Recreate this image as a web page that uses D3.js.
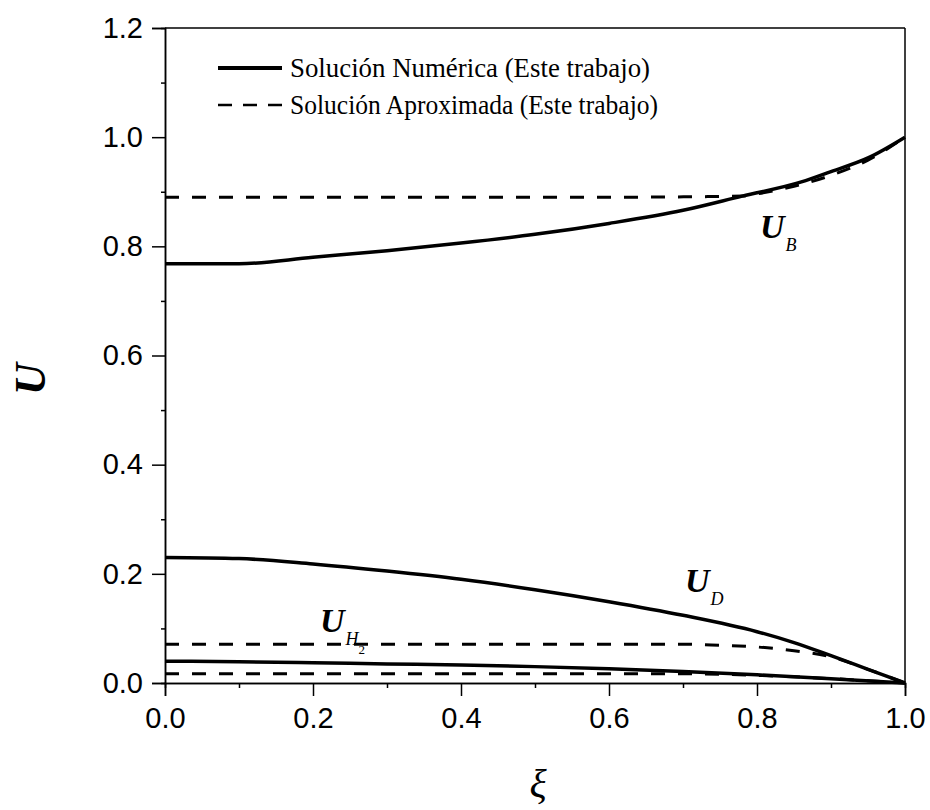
<!DOCTYPE html>
<html>
<head>
<meta charset="utf-8">
<script src="https://cdn.jsdelivr.net/npm/d3@7"></script>
<style>
  body { margin: 0; background: #fff; }
  svg { display: block; }
</style>
</head>
<body>
<div class="chart"></div>
<script>
// values (xi, U)
const xiB = [0, 0.1, 0.2, 0.3, 0.4, 0.5, 0.6, 0.7, 0.78, 0.86, 0.9, 0.95, 1.0];
const numB = [0.768, 0.768, 0.78, 0.792, 0.806, 0.822, 0.842, 0.866, 0.892, 0.918, 0.937, 0.962, 1.0];
const xiBa = [0, 0.2, 0.4, 0.6, 0.78, 0.8, 0.85, 0.9, 0.95, 1.0];
const aprB = [0.89, 0.89, 0.89, 0.89, 0.892, 0.896, 0.91, 0.93, 0.958, 1.0];

const xiD = [0, 0.1, 0.2, 0.3, 0.4, 0.5, 0.6, 0.7, 0.8, 0.85, 0.9, 0.95, 1.0];
const numD = [0.23, 0.228, 0.218, 0.205, 0.19, 0.171, 0.149, 0.124, 0.094, 0.074, 0.05, 0.025, 0];
const xiDa = [0, 0.2, 0.4, 0.6, 0.7, 0.75, 0.8, 0.85, 0.9, 0.95, 1.0];
const aprD = [0.071, 0.071, 0.071, 0.071, 0.071, 0.069, 0.066, 0.059, 0.048, 0.025, 0];

const xiH = [0, 0.1, 0.2, 0.3, 0.4, 0.5, 0.6, 0.7, 0.8, 0.9, 1.0];
const numH = [0.04, 0.039, 0.037, 0.035, 0.033, 0.03, 0.026, 0.021, 0.015, 0.008, 0];
const xiHa = [0, 0.2, 0.4, 0.6, 0.7, 0.8, 0.9, 1.0];
const aprH = [0.017, 0.017, 0.017, 0.017, 0.017, 0.014, 0.008, 0];

const xTicks = [0, 0.2, 0.4, 0.6, 0.8, 1.0];
const xMinor = [0.1, 0.3, 0.5, 0.7, 0.9];
const yTicks = [0, 0.2, 0.4, 0.6, 0.8, 1.0, 1.2];
const yMinor = [0.1, 0.3, 0.5, 0.7, 0.9, 1.1];

const legendLabels = ["Solución Numérica (Este trabajo)", "Solución Aproximada (Este trabajo)"];

const width = 930, height = 810;
const margin = { top: 28, right: 25, bottom: 127, left: 165 };

const svg = d3.select(".chart").append("svg")
  .attr("width", width)
  .attr("height", height);

const x = d3.scaleLinear().domain([0, 1]).range([margin.left, width - margin.right]);
const y = d3.scaleLinear().domain([0, 1.2]).range([height - margin.bottom, margin.top]);

const tickFont = "'Liberation Sans', Arial, sans-serif";
const serif = "'Liberation Serif', 'Times New Roman', serif";

function styleAxis(g) {
  g.select(".domain").attr("stroke", "#000").attr("stroke-width", 1.5);
  g.selectAll(".tick line").attr("stroke", "#000").attr("stroke-width", 1.5);
  g.selectAll(".tick text").attr("font-family", tickFont).attr("font-size", 29).attr("fill", "#000");
}

// x axis
svg.append("g")
  .attr("transform", "translate(0," + y(0) + ")")
  .call(d3.axisBottom(x).tickValues(xTicks).tickSize(13).tickPadding(11).tickFormat(d3.format(".1f")))
  .call(styleAxis);
svg.append("g")
  .attr("transform", "translate(0," + y(0) + ")")
  .call(d3.axisBottom(x).tickValues(xMinor).tickSize(5).tickFormat(""))
  .call(styleAxis);

// y axis
svg.append("g")
  .attr("transform", "translate(" + x(0) + ",0)")
  .call(d3.axisLeft(y).tickValues(yTicks).tickSize(13).tickPadding(9).tickFormat(d3.format(".1f")))
  .call(styleAxis);
svg.append("g")
  .attr("transform", "translate(" + x(0) + ",0)")
  .call(d3.axisLeft(y).tickValues(yMinor).tickSize(4).tickFormat(""))
  .call(styleAxis);

// top and right frame
svg.append("line").attr("x1", x(0)).attr("x2", x(1)).attr("y1", y(1.2)).attr("y2", y(1.2))
  .attr("stroke", "#000").attr("stroke-width", 1.5);
svg.append("line").attr("x1", x(1)).attr("x2", x(1)).attr("y1", y(1.2)).attr("y2", y(0))
  .attr("stroke", "#000").attr("stroke-width", 1.5);

const line = d3.line()
  .x(d => x(d[0]))
  .y(d => y(d[1]))
  .curve(d3.curveMonotoneX);

function drawSeries(xs, ys, dashed) {
  svg.append("path")
    .datum(d3.zip(xs, ys))
    .attr("fill", "none")
    .attr("stroke", "#000")
    .attr("stroke-width", dashed ? 3 : 3.5)
    .attr("stroke-dasharray", dashed ? "14,13" : null)
    .attr("d", line);
}

drawSeries(xiBa, aprB, true);
drawSeries(xiDa, aprD, true);
drawSeries(xiHa, aprH, true);
drawSeries(xiB, numB, false);
drawSeries(xiD, numD, false);
drawSeries(xiH, numH, false);

// legend
const legend = svg.append("g");
legendLabels.forEach((label, i) => {
  const ly = 68 + i * 37;
  legend.append("line")
    .attr("x1", 218).attr("x2", 282).attr("y1", ly).attr("y2", ly)
    .attr("stroke", "#000")
    .attr("stroke-width", i === 0 ? 4 : 2.5)
    .attr("stroke-dasharray", i === 0 ? null : "14,11");
  legend.append("text")
    .attr("x", 290).attr("y", ly + 9)
    .attr("font-family", serif).attr("font-size", 27)
    .attr("textLength", i === 0 ? 360 : 368)
    .attr("lengthAdjust", "spacingAndGlyphs")
    .text(label);
});

// curve labels
function curveLabel(ux, uy, sub, sub2) {
  const t = svg.append("text").attr("font-family", serif).attr("fill", "#000");
  t.append("tspan").attr("x", ux).attr("y", uy)
    .attr("font-size", 34).attr("font-weight", "bold").attr("font-style", "italic").text("U");
  t.append("tspan").attr("dx", 1).attr("dy", 13)
    .attr("font-size", 18).attr("font-style", "italic").text(sub);
  if (sub2) {
    t.append("tspan").attr("dy", 9)
      .attr("font-size", 13).text(sub2);
  }
}
curveLabel(760, 238, "B");
curveLabel(685, 592, "D");
curveLabel(320, 632, "H", "2");

// axis titles
svg.append("text")
  .attr("transform", "translate(45,379) rotate(-90)")
  .attr("text-anchor", "middle")
  .attr("font-family", serif).attr("font-size", 44)
  .attr("font-weight", "bold").attr("font-style", "italic")
  .text("U");

svg.append("text")
  .attr("x", 538).attr("y", 797)
  .attr("text-anchor", "middle")
  .attr("font-family", serif).attr("font-size", 40)
  .attr("font-style", "italic")
  .text("ξ");
</script>
</body>
</html>
